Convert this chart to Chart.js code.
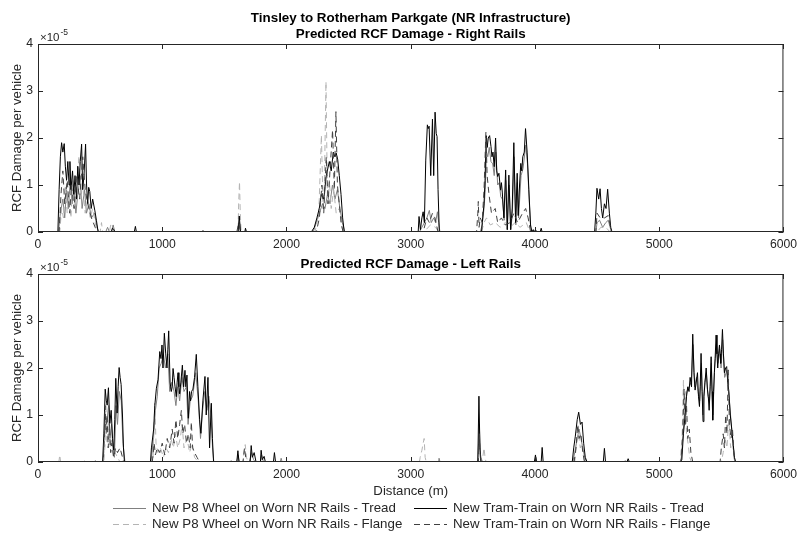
<!DOCTYPE html>
<html>
<head>
<meta charset="utf-8">
<script src="https://cdn.jsdelivr.net/npm/chart.js@4.4.1/dist/chart.umd.min.js"></script>
<style>
    body { margin: 0; background: #fff; }
    #wrap { position: relative; width: 802px; height: 538px; }
    #rightChart { position: absolute; left: 0; top: 0; }
    #leftChart { position: absolute; left: 0; top: 250px; }
</style>
</head>
<body>
<div id="wrap">
    <canvas id="rightChart" width="802" height="252"></canvas>
    <canvas id="leftChart" width="802" height="288"></canvas>
</div>
<script>
// Values are RCF damage per vehicle in units of 1e-5, as [distance (m), value]
const rightP8Tread = [[0,0],[165,0],[180,0.4],[200,0.7],[215,0.3],[230,0.9],[245,0.5],[260,1.1],[275,0.6],[290,0.9],[305,0.4],[320,0.8],[340,1.2],[355,0.5],[375,0.9],[390,0.4],[410,0.6],[430,0.3],[455,0.4],[475,0.1],[490,0],
    [545,0],[560,0.1],[575,0],[590,0],[605,0.15],[618,0],[1615,0],[1622,0.2],[1630,0],
    [2215,0],[2240,0.2],[2265,0.4],[2290,0.6],[2310,0.5],[2330,0.8],[2350,0.6],[2370,1.0],[2390,0.7],[2410,0.9],[2430,0.5],[2450,0.2],[2470,0],
    [3070,0],[3090,0.1],[3110,0.2],[3130,0.3],[3150,0.46],[3165,0.2],[3185,0.3],[3200,0.2],[3215,0.43],[3225,0.2],[3235,0],
    [3560,0],[3575,0.15],[3590,0.5],[3600,0.9],[3610,1.7],[3620,1.6],[3632,1.8],[3646,1.5],[3660,1.45],[3672,1.2],[3685,1.7],[3700,1.0],[3712,1.05],[3725,0.75],[3738,0.7],[3752,0.25],[3765,1.1],[3778,0.05],[3792,1.0],[3806,0.05],[3818,0.4],[3832,1.6],[3846,0.15],[3858,1.05],[3868,0.3],[3888,1.2],[3904,1.35],[3926,1.85],[3940,1.45],[3953,0.7],[3966,0.1],[3980,0],
    [4490,0],[4500,0.2],[4520,0.25],[4545,0.1],[4570,0.2],[4590,0.25],[4610,0.05],[4625,0],[5825,0]];
const rightP8Flange = [[0,0],[175,0],[190,0.5],[205,0.3],[220,1.0],[235,0.4],[250,0.8],[265,0.3],[280,1.1],[295,0.5],[310,0.9],[330,1.62],[345,0.7],[360,1.0],[380,0.4],[400,0.7],[420,0.3],[440,0.5],[460,0.2],[480,0],
    [500,0],[511,0.2],[520,0],[575,0],[585,0.15],[600,0.1],[615,0],
    [1610,0],[1615,0.6],[1622,1.07],[1628,0.4],[1635,0],
    [2230,0],[2260,0.4],[2281,2.06],[2295,0.5],[2305,1.0],[2318,3.2],[2330,0.6],[2345,1.1],[2360,0.5],[2380,0.9],[2400,0.4],[2425,0.5],[2445,0.1],[2460,0],
    [3110,0],[3140,0.1],[3160,0.15],[3200,0.1],[3225,0],
    [3570,0],[3590,0.2],[3610,0.3],[3640,0.15],[3680,0.2],[3720,0.1],[3760,0.2],[3800,0.1],[3840,0.2],[3880,0.1],[3930,0.2],[3960,0],
    [4500,0],[4530,0.1],[4570,0.1],[4605,0],[5825,0]];
const rightTramTread = [[0,0],[160,0],[170,0.9],[180,1.6],[190,1.9],[200,1.7],[211,1.88],[220,1.4],[230,1.1],[240,1.5],[250,1.0],[257,1.5],[265,0.9],[278,1.3],[288,0.8],[298,1.2],[310,0.7],[320,1.4],[330,1.0],[340,1.5],[351,1.87],[360,0.9],[370,1.2],[383,1.87],[391,1.0],[400,0.6],[408,0.95],[417,0.86],[428,0.5],[440,0.7],[458,0.45],[470,0.25],[484,0],
    [590,0],[600,0.08],[610,0.05],[620,0],[775,0],[784,0.12],[792,0],[1320,0],[1328,0.03],[1336,0],[1610,0],[1620,0.34],[1630,0],[1665,0],[1670,0.08],[1678,0],
    [2200,0],[2224,0.1],[2245,0.3],[2264,0.5],[2280,0.8],[2300,0.7],[2320,1.2],[2345,1.5],[2360,1.3],[2377,1.7],[2390,1.6],[2400,1.68],[2412,1.55],[2425,1.2],[2439,0.8],[2452,0.3],[2465,0],
    [3060,0],[3067,0.33],[3078,0.05],[3090,0.3],[3100,0.43],[3110,0.2],[3121,1.53],[3134,2.28],[3141,2.2],[3148,2.25],[3161,1.2],[3175,2.4],[3185,1.2],[3196,2.55],[3205,2.1],[3212,2.03],[3220,0.9],[3230,0],
    [3570,0],[3576,0.2],[3590,0.6],[3598,1.1],[3608,2.05],[3616,1.8],[3624,2.0],[3635,2.05],[3646,1.82],[3654,1.6],[3662,1.7],[3672,1.39],[3683,2.0],[3692,1.3],[3700,1.18],[3710,1.25],[3723,0.89],[3730,1.05],[3737,0.85],[3750,0.3],
    [3764,1.32],[3777,0.05],[3790,1.21],[3804,0.05],[3817,0.51],[3830,1.9],[3844,0.2],[3857,1.25],[3865,0.35],[3876,1.0],[3886,1.46],[3894,1.3],[3902,1.6],[3914,1.7],[3924,2.2],[3937,1.7],[3951,0.9],[3964,0.15],[3975,0],[3986,0.05],[3995,0],[4004,0.05],[4015,0],[4042,0],[4050,0.08],[4058,0],
    [4480,0],[4490,0.4],[4499,0.93],[4513,0.7],[4524,0.92],[4535,0.5],[4545,0.3],[4559,0.6],[4572,0.5],[4585,0.91],[4599,0.4],[4610,0.1],[4620,0],[5825,0]];
const rightTramFlange = [[0,0],[170,0],[185,0.8],[200,1.3],[215,0.6],[235,1.1],[255,0.4],[270,1.0],[290,0.5],[310,1.2],[335,0.7],[360,1.6],[380,0.9],[400,0.6],[430,0.3],[460,0.1],[480,0],
    [1600,0],[1616,0.2],[1630,0],
    [2240,0],[2265,0.3],[2285,1.0],[2300,0.4],[2320,1.6],[2335,0.6],[2350,1.3],[2371,2.17],[2385,0.9],[2398,2.56],[2410,1.0],[2425,0.6],[2440,0.2],[2455,0],
    [3100,0],[3130,0.3],[3150,0.2],[3175,0.4],[3195,0.3],[3220,0],
    [3530,0],[3540,0.4],[3544,0.65],[3550,0.1],[3560,0.3],[3575,0.2],[3590,0.9],[3605,2.12],[3615,1.2],[3630,0.8],[3650,0.4],[3680,0.5],[3700,0.2],[3730,0.3],[3760,0.15],[3800,0.2],[3830,0.4],[3860,0.2],[3900,0.4],[3925,0.5],[3945,0.3],[3965,0],
    [4490,0],[4500,0.4],[4525,0.3],[4560,0.3],[4590,0.35],[4615,0],[5825,0]];

const leftP8Tread = [[0,0],[360,0],[372,0.02],[380,0],[455,0],[462,0.03],[470,0],
    [525,0],[540,0.9],[552,0.8],[568,1.2],[580,0.5],[592,0.8],[605,0.2],[615,0.1],[628,1.2],[640,0.8],[655,1.5],[670,1.3],[684,0.4],[700,0],
    [910,0],[925,0.4],[945,1.1],[960,1.4],[975,2.0],[992,2.1],[1010,2.3],[1025,2.0],[1045,2.3],[1060,1.5],[1078,1.7],[1095,1.5],[1110,1.2],[1125,1.6],[1140,1.3],[1158,1.8],[1175,1.5],[1195,1.6],[1208,0.8],[1225,1.3],[1245,1.4],[1270,1.9],[1290,1.3],[1308,0.5],[1325,1.1],[1342,1.5],[1360,1.1],[1375,1.4],[1392,1.0],[1405,0.3],[1415,0],
    [1550,0],[1555,0.03],[1562,0],[1600,0],[1610,0.15],[1620,0],[1700,0],[1720,0.2],[1735,0.05],[1750,0],[1790,0],[1800,0.15],[1815,0],[1950,0],[1957,0.08],[1965,0],
    [3225,0],[3228,0.08],[3236,0],[3540,0],[3552,0.8],[3560,0.2],[3570,0],[4000,0],[4008,0.1],[4015,0],
    [4305,0],[4320,0.2],[4340,0.5],[4355,0.7],[4370,0.5],[4385,0.3],[4400,0.1],[4415,0],[4720,0],[4727,0.03],[4735,0],
    [5175,0],[5190,0.5],[5205,1.1],[5222,1.5],[5240,1.6],[5258,1.7],[5272,2.5],[5285,1.6],[5300,1.8],[5312,1.5],[5326,1.3],[5340,2.1],[5352,1.0],[5366,1.7],[5380,1.9],[5392,1.4],[5405,1.3],[5420,2.1],[5432,1.0],[5446,2.0],[5460,2.5],[5473,2.1],[5487,2.4],[5498,2.0],[5511,2.6],[5527,1.8],[5545,1.95],[5564,1.35],[5586,0.6],[5608,0.05],[5620,0],[5825,0]];
const leftP8Flange = [[0,0],[168,0],[175,0.15],[182,0],
    [530,0],[540,0.4],[546,1.25],[555,0.4],[565,0.9],[578,0.3],[590,0.5],[605,0.1],[620,0.2],[640,0.1],[660,0],
    [925,0],[940,1.25],[950,0.4],[965,0.2],[985,0.3],[1010,0.1],[1030,0.3],[1050,0.2],[1070,0.5],[1090,0.3],[1105,0.6],[1125,0.3],[1145,0.5],[1160,0.8],[1175,0.3],[1200,0.5],[1220,0.2],[1240,0.4],[1260,0.1],[1290,0],
    [1650,0],[1660,0.25],[1668,0.37],[1678,0.1],[1690,0],
    [3070,0],[3076,0.1],[3090,0.25],[3100,0.4],[3108,0.5],[3116,0.1],[3125,0],[3575,0],[3590,0.3],[3600,0.05],[3610,0],
    [4320,0],[4335,0.4],[4350,0.6],[4365,0.3],[4380,0.4],[4395,0],
    [5170,0],[5185,0.6],[5195,1.74],[5203,1.0],[5209,1.5],[5220,0.6],[5232,0.4],[5245,0.1],[5260,0],
    [5500,0],[5515,0.2],[5530,0.5],[5545,0.3],[5560,0.9],[5575,0.3],[5590,0.4],[5605,0],[5825,0]];
const leftTramTread = [[0,0],[520,0],[530,0.6],[541,1.55],[550,1.3],[557,1.21],[567,1.58],[578,0.82],[589,1.1],[600,0.5],[610,0.25],[618,0.9],[626,1.78],[637,1.04],[645,1.6],[653,2.01],[661,1.8],[669,1.65],[680,1.0],[688,0.3],[696,0],
    [905,0],[913,0.3],[931,0.7],[940,1.2],[953,1.57],[966,1.75],[980,2.35],[990,2.2],[998,2.49],[1006,2.0],[1017,2.74],[1028,2.3],[1038,2.0],[1045,2.4],[1052,2.79],[1063,1.7],[1073,1.5],[1080,1.6],[1087,1.99],[1095,1.8],[1103,1.6],[1113,1.39],[1120,1.7],[1127,1.9],[1134,1.6],[1140,1.45],[1150,1.7],[1162,2.06],[1172,1.6],[1183,1.95],[1190,1.6],[1199,1.85],[1210,0.93],[1220,1.5],[1228,1.3],[1236,1.5],[1247,1.55],[1260,1.8],[1274,2.29],[1287,1.6],[1301,0.9],[1311,0.61],[1320,1.0],[1327,1.3],[1344,1.82],[1354,1.0],[1368,1.8],[1381,0.3],[1395,1.25],[1404,0.5],[1413,0],
    [1600,0],[1609,0.24],[1618,0],[1708,0],[1716,0.35],[1725,0.1],[1740,0.2],[1755,0],[1790,0],[1796,0.25],[1805,0.05],[1820,0.12],[1830,0],[1895,0],[1903,0.2],[1912,0],
    [3540,0],[3549,1.4],[3557,0.3],[3565,0],[3995,0],[4004,0.15],[4012,0],[4050,0],[4058,0.31],[4066,0],
    [4300,0],[4312,0.3],[4325,0.55],[4340,0.9],[4352,1.06],[4366,0.8],[4379,0.85],[4392,0.4],[4405,0.1],[4419,0],
    [4550,0],[4559,0.29],[4568,0],[4740,0],[4750,0.07],[4760,0],
    [5170,0],[5182,0.05],[5195,0.6],[5209,1.0],[5220,1.4],[5230,1.6],[5240,1.5],[5249,1.8],[5260,1.6],[5270,2.72],[5280,1.9],[5289,1.53],[5298,1.7],[5308,1.9],[5316,1.4],[5324,1.18],[5330,1.6],[5337,2.31],[5345,1.5],[5353,0.86],[5360,1.4],[5369,1.7],[5378,2.0],[5388,1.55],[5395,1.4],[5402,1.1],[5410,1.6],[5418,2.24],[5425,1.5],[5431,0.89],[5438,1.5],[5444,1.9],[5450,2.2],[5458,2.7],[5465,2.3],[5471,2.0],[5478,2.3],[5485,2.49],[5490,2.3],[5495,2.1],[5502,2.4],[5509,2.82],[5517,2.3],[5525,1.9],[5535,2.0],[5543,2.03],[5552,1.7],[5562,1.43],[5572,1.0],[5584,0.7],[5595,0.4],[5605,0.1],[5616,0],[5825,0]];
const leftTramFlange = [[0,0],[525,0],[533,0.5],[540,1.2],[548,0.6],[556,1.0],[565,0.3],[575,0.8],[585,0.2],[595,0.4],[610,0.1],[625,0.3],[640,0.2],[660,0.3],[680,0.1],[690,0],
    [920,0],[935,0.4],[945,0.15],[960,0.3],[980,0.2],[1000,0.4],[1020,0.15],[1040,0.5],[1060,0.3],[1080,0.7],[1095,0.4],[1110,0.9],[1125,0.5],[1140,0.8],[1154,1.1],[1165,0.6],[1180,0.8],[1195,0.4],[1210,0.6],[1225,0.3],[1234,0.85],[1245,0.3],[1260,0.2],[1280,0.1],[1300,0],
    [1650,0],[1662,0.3],[1672,0.1],[1685,0],[3545,0],[3552,0.6],[3560,0.1],[3575,0],
    [4315,0],[4330,0.3],[4345,0.8],[4355,0.5],[4370,0.6],[4385,0.2],[4400,0],
    [5175,0],[5188,0.5],[5200,1.55],[5210,0.8],[5220,1.2],[5230,0.5],[5242,0.7],[5255,0.2],[5270,0],
    [5490,0],[5500,0.3],[5515,0.6],[5525,0.3],[5535,1.0],[5545,0.6],[5556,1.96],[5565,0.8],[5578,0.5],[5590,0.7],[5600,0.2],[5612,0],[5825,0]];

const seriesLabels = [
    'New P8 Wheel on Worn NR Rails - Tread',
    'New P8 Wheel on Worn NR Rails - Flange',
    'New Tram-Train on Worn NR Rails - Tread',
    'New Tram-Train on Worn NR Rails - Flange'
];
const seriesColors = ['#808080', '#b4b4b4', '#000000', '#404040'];
const seriesDashes = [[], [6, 4], [], [6, 4]];

const FONT = '"Liberation Sans", Arial, sans-serif';
const TEXT = '#262626';
Chart.defaults.font.family = FONT;
Chart.defaults.color = TEXT;

// MATLAB style box: frame, inward ticks, exponent, titles and (optionally) legend
const matlabAxes = {
    id: 'matlabAxes',
    afterDraw(chart, args, opts) {
        const { ctx, chartArea: a, scales: { x, y } } = chart;
        ctx.save();
        ctx.strokeStyle = TEXT;
        ctx.lineWidth = 1;
        ctx.setLineDash([]);
        ctx.beginPath();
        ctx.rect(a.left + 0.5, a.top + 0.5, a.right - a.left - 1, a.bottom - a.top - 1);
        x.ticks.forEach(t => {
            const px = Math.round(x.getPixelForValue(t.value)) + 0.5;
            ctx.moveTo(px, a.bottom); ctx.lineTo(px, a.bottom - 5);
            ctx.moveTo(px, a.top); ctx.lineTo(px, a.top + 5);
        });
        y.ticks.forEach(t => {
            const py = Math.round(y.getPixelForValue(t.value)) + 0.5;
            ctx.moveTo(a.left, py); ctx.lineTo(a.left + 5, py);
            ctx.moveTo(a.right, py); ctx.lineTo(a.right - 5, py);
        });
        ctx.stroke();

        // exponent label
        ctx.fillStyle = TEXT;
        ctx.textBaseline = 'alphabetic';
        ctx.textAlign = 'left';
        ctx.font = '11.5px ' + FONT;
        ctx.fillText('\u00d710', a.left + 2, a.top - 3);
        const w = ctx.measureText('\u00d710').width;
        ctx.font = '8.5px ' + FONT;
        ctx.fillText('-5', a.left + 2 + w + 1, a.top - 9);

        // titles
        ctx.fillStyle = '#000';
        ctx.font = 'bold 13.4px ' + FONT;
        ctx.textAlign = 'center';
        ctx.textBaseline = 'middle';
        const cx = (a.left + a.right) / 2;
        opts.titles.forEach((t, i, arr) => {
            ctx.fillText(t, cx, a.top - 10 - (arr.length - 1 - i) * 16);
        });

        // legend, two columns
        if (opts.legend) {
            ctx.font = '13.3px ' + FONT;
            ctx.textAlign = 'left';
            ctx.fillStyle = TEXT;
            const L = opts.legend;
            chart.data.datasets.forEach((ds, i) => {
                const col = Math.floor(i / 2), row = i % 2;
                const lx = L.cols[col], ly = L.rows[row] + 0.5;
                ctx.strokeStyle = ds.borderColor;
                ctx.setLineDash(ds.borderDash);
                ctx.beginPath();
                ctx.moveTo(lx, ly);
                ctx.lineTo(lx + L.lineLen, ly);
                ctx.stroke();
                ctx.fillText(ds.label, lx + L.lineLen + 6, L.rows[row]);
            });
        }
        ctx.restore();
    }
};

function buildDatasets(seriesData) {
    return seriesData.map((pts, i) => ({
        label: seriesLabels[i],
        data: pts.map(p => ({ x: p[0], y: p[1] })),
        borderColor: seriesColors[i],
        borderDash: seriesDashes[i],
        borderWidth: 1,
        pointRadius: 0,
        tension: 0,
        fill: false,
        order: 4 - i
    }));
}

function makeScales(showXTitle) {
    return {
        x: {
            type: 'linear',
            min: 0,
            max: 6000,
            grid: { display: false, drawTicks: false },
            border: { display: false },
            ticks: {
                stepSize: 1000,
                padding: 5,
                maxRotation: 0,
                color: TEXT,
                font: { size: 12.2 },
                callback: (value) => String(value)
            },
            title: {
                display: showXTitle,
                text: 'Distance (m)',
                color: TEXT,
                font: { size: 13.2 },
                padding: { top: 0, bottom: 3 }
            },
            afterFit: (scale) => { scale.height = showXTitle ? 40 : 20; }
        },
        y: {
            type: 'linear',
            min: 0,
            max: 4,
            grid: { display: false, drawTicks: false },
            border: { display: false },
            ticks: {
                stepSize: 1,
                padding: 5,
                color: TEXT,
                font: { size: 12.2 }
            },
            title: {
                display: true,
                text: 'RCF Damage per vehicle',
                color: TEXT,
                font: { size: 13.2 },
                padding: { top: 9, bottom: 0 }
            },
            afterFit: (scale) => { scale.width = 38; }
        }
    };
}

function makePanel(canvas, seriesData, padding, pluginOpts) {
    return new Chart(canvas.getContext('2d'), {
        type: 'line',
        data: { datasets: buildDatasets(seriesData) },
        options: {
            responsive: false,
            animation: false,
            layout: { padding: padding },
            plugins: {
                legend: { display: false },
                tooltip: { enabled: false },
                matlabAxes: pluginOpts
            },
            scales: makeScales(!!pluginOpts.legend)
        },
        plugins: [matlabAxes]
    });
}

makePanel(document.getElementById('rightChart'),
    [rightP8Tread, rightP8Flange, rightTramTread, rightTramFlange],
    { top: 44, right: 17, left: 0, bottom: 0 },
    { titles: ['Tinsley to Rotherham Parkgate (NR Infrastructure)', 'Predicted RCF Damage - Right Rails'] });

makePanel(document.getElementById('leftChart'),
    [leftP8Tread, leftP8Flange, leftTramTread, leftTramFlange],
    { top: 24, right: 17, left: 0, bottom: 36 },
    {
        titles: ['Predicted RCF Damage - Left Rails'],
        legend: { cols: [113, 414], rows: [258, 274], lineLen: 33 }
    });
</script>
</body>
</html>
